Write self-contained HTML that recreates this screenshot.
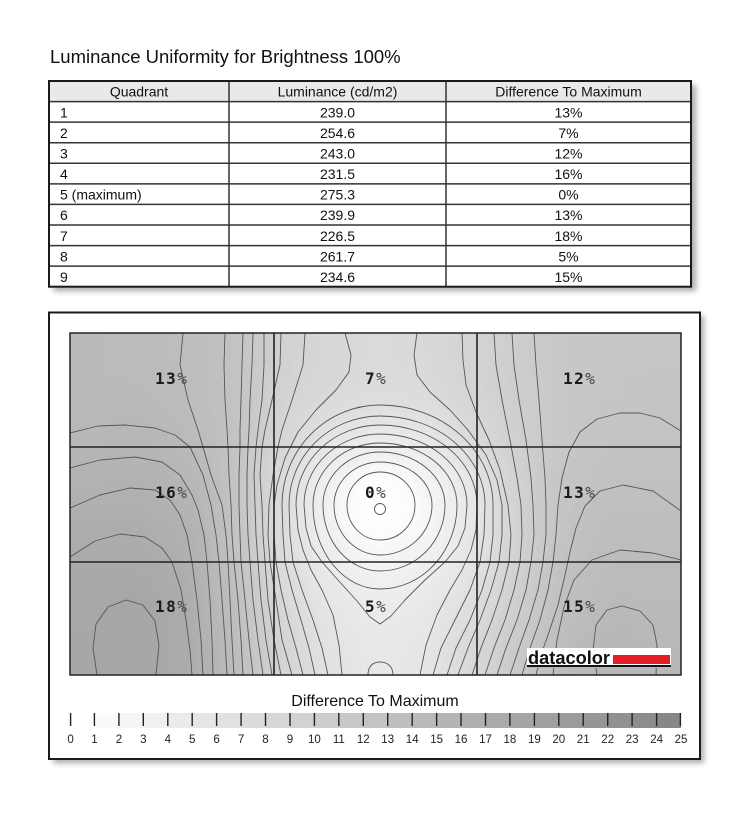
<!DOCTYPE html>
<html><head><meta charset="utf-8"><style>
html,body{margin:0;padding:0;background:#fff;}
svg{display:block;}
</style></head><body>
<svg width="747" height="827" viewBox="0 0 747 827" xmlns="http://www.w3.org/2000/svg">
<defs>
<filter id="sh" x="-5%" y="-5%" width="115%" height="115%"><feGaussianBlur stdDeviation="3"/></filter>
<filter id="bl" filterUnits="userSpaceOnUse" x="0" y="260" width="747" height="490"><feGaussianBlur stdDeviation="18"/></filter>
<clipPath id="pc"><rect x="70" y="333" width="611" height="342"/></clipPath>
<radialGradient id="rg" cx="380" cy="506" r="50" gradientUnits="userSpaceOnUse"><stop offset="0" stop-color="#fff" stop-opacity="0.95"/><stop offset="0.6" stop-color="#fff" stop-opacity="0.4"/><stop offset="1" stop-color="#fff" stop-opacity="0"/></radialGradient>
</defs>

<text x="50" y="63" font-family="'Liberation Sans', Arial, sans-serif" font-size="18.5" fill="#111">Luminance Uniformity for Brightness 100%</text>

<!-- table -->
<rect x="53" y="85" width="643" height="206" fill="#666" opacity="0.55" filter="url(#sh)"/>
<rect x="49" y="81" width="642" height="205.7" fill="#fff"/>
<rect x="49" y="81" width="642" height="20.6" fill="#e9e9e9"/>
<path d="M49,101.6H691M49,122.1H691M49,142.7H691M49,163.3H691M49,183.9H691M49,204.4H691M49,225H691M49,245.6H691M49,266.1H691M229,81V286.7M446,81V286.7" stroke="#333" stroke-width="1.5" fill="none"/>
<rect x="49" y="81" width="642" height="205.7" fill="none" stroke="#1a1a1a" stroke-width="2"/>
<g font-family="'Liberation Sans', Arial, sans-serif" font-size="14" fill="#111">
<text x="139" y="96.5" text-anchor="middle">Quadrant</text>
<text x="337.5" y="96.5" text-anchor="middle">Luminance (cd/m2)</text>
<text x="568.5" y="96.5" text-anchor="middle">Difference To Maximum</text>
<text x="60" y="117.4">1</text><text x="337.5" y="117.4" text-anchor="middle">239.0</text><text x="568.5" y="117.4" text-anchor="middle">13%</text>
<text x="60" y="137.9">2</text><text x="337.5" y="137.9" text-anchor="middle">254.6</text><text x="568.5" y="137.9" text-anchor="middle">7%</text>
<text x="60" y="158.5">3</text><text x="337.5" y="158.5" text-anchor="middle">243.0</text><text x="568.5" y="158.5" text-anchor="middle">12%</text>
<text x="60" y="179.1">4</text><text x="337.5" y="179.1" text-anchor="middle">231.5</text><text x="568.5" y="179.1" text-anchor="middle">16%</text>
<text x="60" y="199.7">5 (maximum)</text><text x="337.5" y="199.7" text-anchor="middle">275.3</text><text x="568.5" y="199.7" text-anchor="middle">0%</text>
<text x="60" y="220.2">6</text><text x="337.5" y="220.2" text-anchor="middle">239.9</text><text x="568.5" y="220.2" text-anchor="middle">13%</text>
<text x="60" y="240.8">7</text><text x="337.5" y="240.8" text-anchor="middle">226.5</text><text x="568.5" y="240.8" text-anchor="middle">18%</text>
<text x="60" y="261.4">8</text><text x="337.5" y="261.4" text-anchor="middle">261.7</text><text x="568.5" y="261.4" text-anchor="middle">5%</text>
<text x="60" y="281.9">9</text><text x="337.5" y="281.9" text-anchor="middle">234.6</text><text x="568.5" y="281.9" text-anchor="middle">15%</text>
</g>

<!-- chart box -->
<rect x="53" y="316" width="651" height="447" fill="#666" opacity="0.55" filter="url(#sh)"/>
<rect x="49" y="312.5" width="651" height="446.5" fill="#fff" stroke="#1a1a1a" stroke-width="2"/>

<g clip-path="url(#pc)">
<g filter="url(#bl)">
<g><rect x="10" y="273" width="107" height="103" fill="#bababa"/><rect x="117" y="273" width="47" height="103" fill="#bbbbbb"/><rect x="164" y="273" width="47" height="103" fill="#bdbdbd"/><rect x="211" y="273" width="47" height="103" fill="#c2c2c2"/><rect x="258" y="273" width="47" height="103" fill="#d1d1d1"/><rect x="305" y="273" width="47" height="103" fill="#d7d7d7"/><rect x="352" y="273" width="47" height="103" fill="#dbdbdb"/><rect x="399" y="273" width="47" height="103" fill="#d9d9d9"/><rect x="446" y="273" width="47" height="103" fill="#d4d4d4"/><rect x="493" y="273" width="47" height="103" fill="#cdcdcd"/><rect x="540" y="273" width="47" height="103" fill="#c7c7c7"/><rect x="587" y="273" width="47" height="103" fill="#c6c6c6"/><rect x="634" y="273" width="107" height="103" fill="#c6c6c6"/></g>
<g><rect x="10" y="376" width="107" height="42" fill="#bababa"/><rect x="117" y="376" width="47" height="42" fill="#bababa"/><rect x="164" y="376" width="47" height="42" fill="#bcbcbc"/><rect x="211" y="376" width="47" height="42" fill="#c2c2c2"/><rect x="258" y="376" width="47" height="42" fill="#d3d3d3"/><rect x="305" y="376" width="47" height="42" fill="#d9d9d9"/><rect x="352" y="376" width="47" height="42" fill="#dcdcdc"/><rect x="399" y="376" width="47" height="42" fill="#dbdbdb"/><rect x="446" y="376" width="47" height="42" fill="#d5d5d5"/><rect x="493" y="376" width="47" height="42" fill="#cecece"/><rect x="540" y="376" width="47" height="42" fill="#c7c7c7"/><rect x="587" y="376" width="47" height="42" fill="#c6c6c6"/><rect x="634" y="376" width="107" height="42" fill="#c5c5c5"/></g>
<g><rect x="10" y="418" width="107" height="43" fill="#b7b7b7"/><rect x="117" y="418" width="47" height="43" fill="#b6b6b6"/><rect x="164" y="418" width="47" height="43" fill="#bababa"/><rect x="211" y="418" width="47" height="43" fill="#c2c2c2"/><rect x="258" y="418" width="47" height="43" fill="#d5d5d5"/><rect x="305" y="418" width="47" height="43" fill="#e4e4e4"/><rect x="352" y="418" width="47" height="43" fill="#ebebeb"/><rect x="399" y="418" width="47" height="43" fill="#e8e8e8"/><rect x="446" y="418" width="47" height="43" fill="#dbdbdb"/><rect x="493" y="418" width="47" height="43" fill="#cfcfcf"/><rect x="540" y="418" width="47" height="43" fill="#c7c7c7"/><rect x="587" y="418" width="47" height="43" fill="#c3c3c3"/><rect x="634" y="418" width="107" height="43" fill="#c3c3c3"/></g>
<g><rect x="10" y="461" width="107" height="43" fill="#b2b2b2"/><rect x="117" y="461" width="47" height="43" fill="#b1b1b1"/><rect x="164" y="461" width="47" height="43" fill="#b6b6b6"/><rect x="211" y="461" width="47" height="43" fill="#c2c2c2"/><rect x="258" y="461" width="47" height="43" fill="#dbdbdb"/><rect x="305" y="461" width="47" height="43" fill="#f2f2f2"/><rect x="352" y="461" width="47" height="43" fill="#fdfdfd"/><rect x="399" y="461" width="47" height="43" fill="#f7f7f7"/><rect x="446" y="461" width="47" height="43" fill="#e8e8e8"/><rect x="493" y="461" width="47" height="43" fill="#d1d1d1"/><rect x="540" y="461" width="47" height="43" fill="#c4c4c4"/><rect x="587" y="461" width="47" height="43" fill="#c1c1c1"/><rect x="634" y="461" width="107" height="43" fill="#c1c1c1"/></g>
<g><rect x="10" y="504" width="107" height="43" fill="#adadad"/><rect x="117" y="504" width="47" height="43" fill="#adadad"/><rect x="164" y="504" width="47" height="43" fill="#b1b1b1"/><rect x="211" y="504" width="47" height="43" fill="#c2c2c2"/><rect x="258" y="504" width="47" height="43" fill="#dbdbdb"/><rect x="305" y="504" width="47" height="43" fill="#f3f3f3"/><rect x="352" y="504" width="47" height="43" fill="#fefefe"/><rect x="399" y="504" width="47" height="43" fill="#f8f8f8"/><rect x="446" y="504" width="47" height="43" fill="#e8e8e8"/><rect x="493" y="504" width="47" height="43" fill="#d2d2d2"/><rect x="540" y="504" width="47" height="43" fill="#c3c3c3"/><rect x="587" y="504" width="47" height="43" fill="#bebebe"/><rect x="634" y="504" width="107" height="43" fill="#bebebe"/></g>
<g><rect x="10" y="547" width="107" height="43" fill="#a9a9a9"/><rect x="117" y="547" width="47" height="43" fill="#a9a9a9"/><rect x="164" y="547" width="47" height="43" fill="#aeaeae"/><rect x="211" y="547" width="47" height="43" fill="#c0c0c0"/><rect x="258" y="547" width="47" height="43" fill="#dbdbdb"/><rect x="305" y="547" width="47" height="43" fill="#eaeaea"/><rect x="352" y="547" width="47" height="43" fill="#f3f3f3"/><rect x="399" y="547" width="47" height="43" fill="#efefef"/><rect x="446" y="547" width="47" height="43" fill="#e4e4e4"/><rect x="493" y="547" width="47" height="43" fill="#d1d1d1"/><rect x="540" y="547" width="47" height="43" fill="#c1c1c1"/><rect x="587" y="547" width="47" height="43" fill="#bbbbbb"/><rect x="634" y="547" width="107" height="43" fill="#bbbbbb"/></g>
<g><rect x="10" y="590" width="107" height="42" fill="#a8a8a8"/><rect x="117" y="590" width="47" height="42" fill="#a6a6a6"/><rect x="164" y="590" width="47" height="42" fill="#ababab"/><rect x="211" y="590" width="47" height="42" fill="#bebebe"/><rect x="258" y="590" width="47" height="42" fill="#d7d7d7"/><rect x="305" y="590" width="47" height="42" fill="#e5e5e5"/><rect x="352" y="590" width="47" height="42" fill="#ebebeb"/><rect x="399" y="590" width="47" height="42" fill="#e8e8e8"/><rect x="446" y="590" width="47" height="42" fill="#dedede"/><rect x="493" y="590" width="47" height="42" fill="#cdcdcd"/><rect x="540" y="590" width="47" height="42" fill="#bebebe"/><rect x="587" y="590" width="47" height="42" fill="#b9b9b9"/><rect x="634" y="590" width="107" height="42" fill="#bababa"/></g>
<g><rect x="10" y="632" width="107" height="103" fill="#a7a7a7"/><rect x="117" y="632" width="47" height="103" fill="#a6a6a6"/><rect x="164" y="632" width="47" height="103" fill="#ababab"/><rect x="211" y="632" width="47" height="103" fill="#bcbcbc"/><rect x="258" y="632" width="47" height="103" fill="#d3d3d3"/><rect x="305" y="632" width="47" height="103" fill="#e2e2e2"/><rect x="352" y="632" width="47" height="103" fill="#e8e8e8"/><rect x="399" y="632" width="47" height="103" fill="#e6e6e6"/><rect x="446" y="632" width="47" height="103" fill="#d9d9d9"/><rect x="493" y="632" width="47" height="103" fill="#c9c9c9"/><rect x="540" y="632" width="47" height="103" fill="#bbbbbb"/><rect x="587" y="632" width="47" height="103" fill="#b6b6b6"/><rect x="634" y="632" width="107" height="103" fill="#b8b8b8"/></g>
</g>
<circle cx="380" cy="506" r="50" fill="url(#rg)"/>

<g fill="none" stroke="#555" stroke-width="0.9" stroke-linejoin="round">
<polyline points="70,433 98,426 125,425 155,428 175,435 190,447 203,475 211,505 216,535 219,562 222,600 225,640 227,675"/>
<polyline points="70,468 100,460 135,457 162,462 180,475 192,495 198,510 204,535 207,562 210,600 212,640 213,675"/>
<polyline points="70,508 100,495 130,488 155,490 170,500 180,515 187,535 192,562 197,600 201,640 203,675"/>
<polyline points="70,557 95,541 120,534 145,537 162,548 172,562 181,590 186,620 190,650 192,675"/>
<polyline points="97,675 93,648 96,624 108,607 126,600 143,605 155,621 159,645 156,675"/>
<polyline points="183,333 180,365 188,400 198,430 203,447 211,475 222,505 226,535 228,562 230,600 232,640 234,675"/>
<polyline points="225,333 224,365 225,400 227,430 228,447 229,475 231,505 232,535 234,562 238,600 241,640 243,675"/>
<polyline points="243,333 242,365 241,400 240,430 240,447 239,475 239,505 240,535 241,562 245,600 249,640 253,675"/>
<polyline points="253,333 252,365 250,400 249,430 248,447 247,475 247,505 248,535 250,562 253,600 258,640 263,675"/>
<polyline points="264,333 264,365 262,400 258,430 256,447 254,475 255,505 256,535 258,562 261,600 266,640 272,675"/>
<polyline points="281,333 280,365 272,400 265,430 262,447 260,475 262,505 263,535 265,562 268,600 274,640 281,675"/>
<polyline points="305,333 303,365 292,400 282,430 278,447 273,475 269,505 268,535 270,562 276,600 282,640 292,675"/>
<polyline points="345,333 351,355 349,372 336,390 316,410 298,432 285,458 277,485 274,505 274,535 276,562 281,590 288,620 296,648 303,675"/>
<polyline points="417,333 414,355 417,375 430,392 450,410 468,430 486,455 497,480 502,505 502,535 499,562 491,590 480,620 468,648 458,675"/>
<polyline points="462,333 463,360 466,385 476,412 489,440 500,470 508,505 511,535 509,562 502,590 492,620 481,648 472,675"/>
<polyline points="494,333 496,365 502,400 510,440 517,478 521,505 522,535 520,562 514,590 505,620 494,648 485,675"/>
<polyline points="512,333 514,365 519,400 526,440 531,478 533,505 534,535 531,562 526,590 517,620 506,648 497,675"/>
<polyline points="534,333 536,365 539,400 542,440 545,478 546,505 546,535 543,562 538,590 529,620 519,648 510,675"/>
<polyline points="681,431 660,418 640,413 620,413 597,419 580,432 569,452 562,478 558,505 556,535 553,562 548,590 540,620 530,648 522,675"/>
<polyline points="681,511 653,491 623,485 600,491 585,506 576,528 570,552 565,575 558,605 548,635 541,655 536,675"/>
<polyline points="681,560 653,553 620,550 592,560 574,580 564,607 557,640 553,675"/>
<polyline points="597,675 593,650 596,625 607,610 622,606 640,611 653,625 657,645 656,675"/>
<path d="M380,472 A35,33 0 0 1 415,505 A35,35 0 0 1 380,540 A33,35 0 0 1 347,505 A33,33 0 0 1 380,472Z"/>
<path d="M380,462 A52,43 0 0 1 432,505 A52,50 0 0 1 380,555 A46,50 0 0 1 334,505 A46,43 0 0 1 380,462Z"/>
<path d="M380,452 A65,53 0 0 1 445,505 A65,66 0 0 1 380,571 A57,66 0 0 1 323,505 A57,53 0 0 1 380,452Z"/>
<path d="M380,443 A77,62 0 0 1 457,505 A77,84 0 0 1 380,589 A67,84 0 0 1 313,505 A67,62 0 0 1 380,443Z"/>
<path d="M304,505 A76,71 0 0 1 380,434 A87,71 0 0 1 467,505 L465,528 L458,546 L445,562 L425,580 L405,600 L391,616 L380,624 L370,617 L357,601 L338,580 L322,562 L311,546 L306,528 Z"/>
<path d="M342,675 L339,645 L333,615 L322,590 L311,570 L303,550 L298,530 L296,505 A84,80 0 0 1 380,425 A97,80 0 0 1 477,505 L476,530 L471,550 L462,570 L450,590 L437,615 L426,645 L420,675"/>
<path d="M328,675 L322,648 L313,620 L302,590 L293,562 L290,535 L289,505 A91,89 0 0 1 380,416 A105,89 0 0 1 485,505 L484,535 L480,562 L470,590 L455,620 L441,648 L433,675"/>
<path d="M315,675 L309,648 L301,620 L292,590 L285,562 L283,535 L282,505 A98,100 0 0 1 380,405 A113,100 0 0 1 493,505 L493,535 L490,562 L482,590 L470,620 L456,648 L447,675"/>
<path d="M368,675 C368,666 373,662 380,662 C387,662 393,666 393,675"/>
<circle cx="380" cy="509" r="5.5"/>
</g>
</g>

<path d="M274,333V675M477,333V675M70,447H681M70,562H681" stroke="#222" stroke-width="1.6" fill="none"/>
<rect x="70" y="333" width="611" height="342" fill="none" stroke="#222" stroke-width="1.5"/>

<g font-family="'DejaVu Sans Mono', 'Liberation Mono', monospace" font-size="16" font-weight="bold" fill="#1a1a1a" letter-spacing="1.5">
<text x="155" y="384">13<tspan font-weight="normal" fill="#444">%</tspan></text>
<text x="365" y="384">7<tspan font-weight="normal" fill="#444">%</tspan></text>
<text x="563" y="384">12<tspan font-weight="normal" fill="#444">%</tspan></text>
<text x="155" y="498">16<tspan font-weight="normal" fill="#444">%</tspan></text>
<text x="365" y="498">0<tspan font-weight="normal" fill="#444">%</tspan></text>
<text x="563" y="498">13<tspan font-weight="normal" fill="#444">%</tspan></text>
<text x="155" y="612">18<tspan font-weight="normal" fill="#444">%</tspan></text>
<text x="365" y="612">5<tspan font-weight="normal" fill="#444">%</tspan></text>
<text x="563" y="612">15<tspan font-weight="normal" fill="#444">%</tspan></text>
</g>

<!-- datacolor logo -->
<rect x="527" y="648" width="144" height="20" fill="#fff"/>
<text x="528" y="664" font-family="'Liberation Sans', Arial, sans-serif" font-size="18" font-weight="bold" fill="#111" textLength="82" lengthAdjust="spacingAndGlyphs">datacolor</text>
<rect x="613" y="655" width="57" height="9" fill="#e41e26"/>
<rect x="527" y="665" width="144" height="2.3" fill="#111"/>

<!-- legend -->
<text x="375" y="706" text-anchor="middle" font-family="'Liberation Sans', Arial, sans-serif" font-size="16" fill="#111">Difference To Maximum</text>
<g>
<rect x="70.0" y="713" width="24.9" height="15" fill="#ffffff"/>
<rect x="94.4" y="713" width="24.9" height="15" fill="#fafafa"/>
<rect x="118.9" y="713" width="24.9" height="15" fill="#f5f5f5"/>
<rect x="143.3" y="713" width="24.9" height="15" fill="#f0f0f0"/>
<rect x="167.8" y="713" width="24.9" height="15" fill="#ebebeb"/>
<rect x="192.2" y="713" width="24.9" height="15" fill="#e6e6e6"/>
<rect x="216.6" y="713" width="24.9" height="15" fill="#e1e1e1"/>
<rect x="241.1" y="713" width="24.9" height="15" fill="#dcdcdc"/>
<rect x="265.5" y="713" width="24.9" height="15" fill="#d7d7d7"/>
<rect x="290.0" y="713" width="24.9" height="15" fill="#d2d2d2"/>
<rect x="314.4" y="713" width="24.9" height="15" fill="#cdcdcd"/>
<rect x="338.8" y="713" width="24.9" height="15" fill="#c8c8c8"/>
<rect x="363.3" y="713" width="24.9" height="15" fill="#c3c3c3"/>
<rect x="387.7" y="713" width="24.9" height="15" fill="#bebebe"/>
<rect x="412.2" y="713" width="24.9" height="15" fill="#b9b9b9"/>
<rect x="436.6" y="713" width="24.9" height="15" fill="#b4b4b4"/>
<rect x="461.0" y="713" width="24.9" height="15" fill="#afafaf"/>
<rect x="485.5" y="713" width="24.9" height="15" fill="#aaaaaa"/>
<rect x="509.9" y="713" width="24.9" height="15" fill="#a5a5a5"/>
<rect x="534.4" y="713" width="24.9" height="15" fill="#a0a0a0"/>
<rect x="558.8" y="713" width="24.9" height="15" fill="#9b9b9b"/>
<rect x="583.2" y="713" width="24.9" height="15" fill="#969696"/>
<rect x="607.7" y="713" width="24.9" height="15" fill="#919191"/>
<rect x="632.1" y="713" width="24.9" height="15" fill="#8c8c8c"/>
<rect x="656.6" y="713" width="24.4" height="15" fill="#878787"/>
</g>
<path d="M70.6,713V726M94.4,713V726M118.9,713V726M143.3,713V726M167.8,713V726M192.2,713V726M216.6,713V726M241.1,713V726M265.5,713V726M290.0,713V726M314.4,713V726M338.8,713V726M363.3,713V726M387.7,713V726M412.2,713V726M436.6,713V726M461.0,713V726M485.5,713V726M509.9,713V726M534.4,713V726M558.8,713V726M583.2,713V726M607.7,713V726M632.1,713V726M656.6,713V726M680.4,713V726" stroke="#222" stroke-width="1.4"/>
<g font-family="'Liberation Sans', Arial, sans-serif" font-size="11.5" fill="#222" text-anchor="middle">
<text x="70.6" y="743">0</text><text x="94.4" y="743">1</text><text x="118.9" y="743">2</text><text x="143.3" y="743">3</text><text x="167.8" y="743">4</text><text x="192.2" y="743">5</text><text x="216.6" y="743">6</text><text x="241.1" y="743">7</text><text x="265.5" y="743">8</text><text x="290.0" y="743">9</text><text x="314.4" y="743">10</text><text x="338.8" y="743">11</text><text x="363.3" y="743">12</text><text x="387.7" y="743">13</text><text x="412.2" y="743">14</text><text x="436.6" y="743">15</text><text x="461.0" y="743">16</text><text x="485.5" y="743">17</text><text x="509.9" y="743">18</text><text x="534.4" y="743">19</text><text x="558.8" y="743">20</text><text x="583.2" y="743">21</text><text x="607.7" y="743">22</text><text x="632.1" y="743">23</text><text x="656.6" y="743">24</text><text x="681.0" y="743">25</text>
</g>
</svg>
</body></html>
